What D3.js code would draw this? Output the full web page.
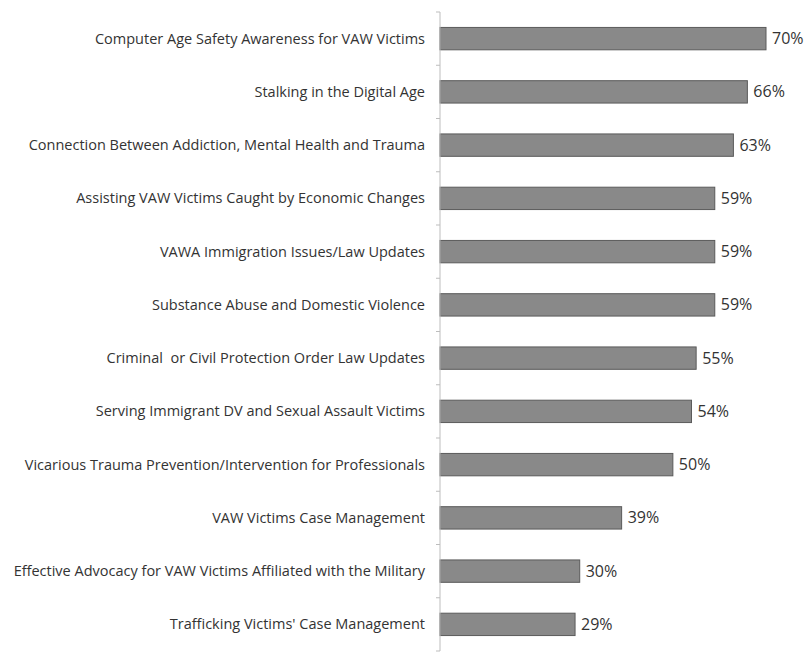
<!DOCTYPE html>
<html>
<head>
<meta charset="utf-8">
<script src="https://cdn.jsdelivr.net/npm/d3@7"></script>
<style>
  body { margin: 0; background: #fff; }
  text { font-family: "Open Sans", sans-serif; fill: #333; white-space: pre; }
</style>
</head>
<body>
<div id="chart"></div>
<script>
// topics, top to bottom
var topics = [
  "Computer Age Safety Awareness for VAW Victims",
  "Stalking in the Digital Age",
  "Connection Between Addiction, Mental Health and Trauma",
  "Assisting VAW Victims Caught by Economic Changes",
  "VAWA Immigration Issues/Law Updates",
  "Substance Abuse and Domestic Violence",
  "Criminal  or Civil Protection Order Law Updates",
  "Serving Immigrant DV and Sexual Assault Victims",
  "Vicarious Trauma Prevention/Intervention for Professionals",
  "VAW Victims Case Management",
  "Effective Advocacy for VAW Victims Affiliated with the Military",
  "Trafficking Victims' Case Management"
];
var percents = [70, 66, 63, 59, 59, 59, 55, 54, 50, 39, 30, 29];

var data = topics.map(function (t, i) { return {item: t, point: percents[i]}; });

var margin = {top: 12, right: 0, bottom: 5, left: 440},
    width = 806 - margin.left - margin.right,
    height = 656 - margin.top - margin.bottom;

var svg = d3.select("#chart")
    .append("svg")
    .attr("width", 806)
    .attr("height", 656)
    .append("g")
    .attr("transform", "translate(" + margin.left + "," + margin.top + ")");

var x = d3.scaleLinear()
    .domain([0, 70])
    .range([0, 326]);

var y = d3.scaleBand()
    .domain(topics)
    .range([0, height])
    .paddingInner(0.58)
    .paddingOuter(0.29);

// bars
svg.selectAll(".bar")
    .data(data)
    .enter().append("rect")
    .attr("class", "bar")
    .attr("x", x(0))
    .attr("y", function (d) { return y(d.item); })
    .attr("width", function (d) { return x(d.point) - x(0); })
    .attr("height", y.bandwidth())
    .attr("fill", "#898989")
    .attr("stroke", "#5a5a5a")
    .attr("stroke-width", 1);

// value labels
svg.selectAll(".val")
    .data(data)
    .enter().append("text")
    .attr("class", "val")
    .attr("x", function (d) { return x(d.point) + 6; })
    .attr("y", function (d) { return y(d.item) + y.bandwidth() / 2; })
    .attr("dy", "0.35em")
    .style("font-size", "16px")
    .text(function (d) { return d.point + "%"; });

// category axis, ticks sit between the bands
var boundaries = d3.range(topics.length + 1).map(function (i) {
  return i * (height / topics.length);
});
var axis = svg.append("g").attr("class", "y axis");
axis.append("line")
    .attr("x1", 0).attr("x2", 0)
    .attr("y1", 0).attr("y2", height)
    .attr("stroke", "#bdbdbd");
axis.selectAll(".tick")
    .data(boundaries)
    .enter().append("line")
    .attr("x1", -4).attr("x2", 0)
    .attr("y1", function (d) { return d; })
    .attr("y2", function (d) { return d; })
    .attr("stroke", "#bdbdbd");
axis.selectAll(".lbl")
    .data(topics)
    .enter().append("text")
    .attr("class", "lbl")
    .attr("x", -15)
    .attr("y", function (d) { return y(d) + y.bandwidth() / 2; })
    .attr("dy", "0.35em")
    .attr("text-anchor", "end")
    .style("font-size", "14.5px")
    .text(function (d) { return d; });
</script>
</body>
</html>
